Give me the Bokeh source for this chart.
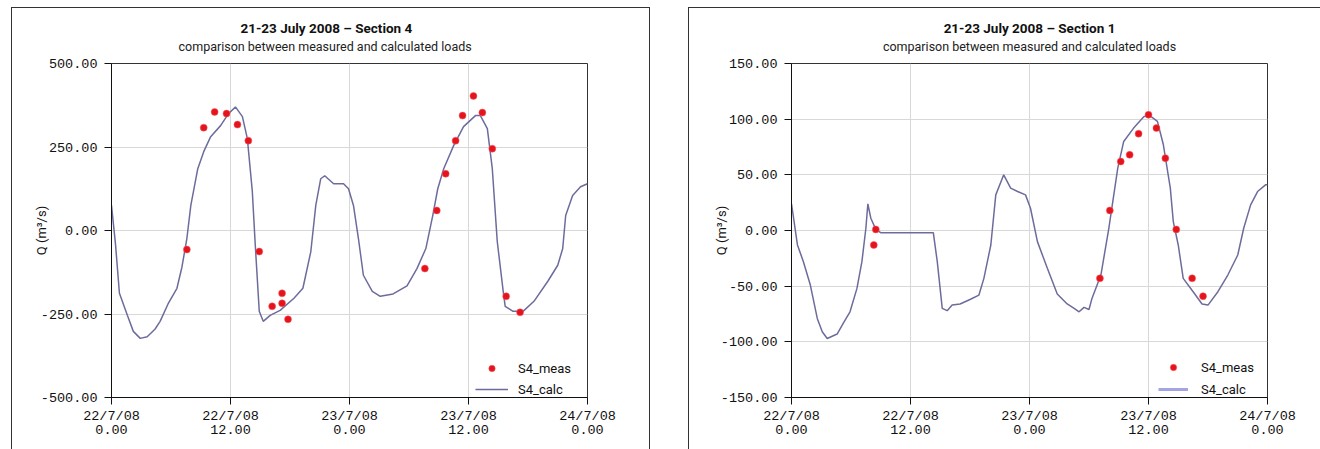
from bokeh.plotting import figure
from bokeh.layouts import row
from bokeh.models import (Title, Legend, LegendItem, FixedTicker, NumeralTickFormatter,
                          ColumnDataSource, Range1d, InlineStyleSheet)
from bokeh.embed import file_html
from bokeh.resources import INLINE

# ---------------- data ----------------
x_ticks = [0, 12, 24, 36, 48]
x_tick_labels = ["22/7/08\n0.00", "22/7/08\n12.00", "23/7/08\n0.00", "23/7/08\n12.00", "24/7/08\n0.00"]

# Section 4 (hours since 22/7/08 0.00)
s4_calc_h = [0.0, 0.4, 0.8, 1.6, 2.2, 2.9, 3.6, 4.4, 4.9, 5.7, 6.6, 7.1, 7.6, 8.0, 8.7, 9.3,
             10.0, 11.0, 11.8, 12.5, 13.2, 13.7, 14.2, 14.5, 14.9, 15.3, 16.0, 17.0, 18.4,
             19.3, 20.1, 20.6, 21.1, 21.5, 22.4, 23.4, 23.9, 24.4, 24.9, 25.4, 26.3, 27.1,
             28.4, 29.8, 30.8, 31.7, 32.4, 32.9, 33.5, 34.5, 35.5, 36.7, 37.2, 37.9, 38.4,
             38.9, 39.5, 39.7, 40.5, 41.5, 42.6, 44.0, 45.0, 45.5, 45.8, 46.5, 47.3, 48.0]
s4_calc_q = [75, -40, -188, -254, -302, -323, -318, -295, -272, -220, -173, -110, -24, 75, 185, 236,
             281, 314, 350, 370, 341, 275, 117, -45, -242, -272, -254, -239, -203,
             -173, -63, 75, 155, 164, 140, 140, 125, 75, -24, -134, -182, -197,
             -190, -166, -114, -54, 45, 125, 185, 254, 311, 344, 344, 305, 185,
             -33, -182, -227, -242, -242, -212, -152, -104, -54, 45, 105, 131, 140]
s4_meas_h = [7.6, 9.3, 10.4, 11.6, 12.7, 13.8, 14.9, 16.2, 17.2, 17.2, 17.8,
             31.6, 32.8, 33.7, 34.7, 35.4, 36.5, 37.4, 38.4, 39.8, 41.2]
s4_meas_q = [-57, 308, 355, 350, 317, 269, -63, -227, -188, -218, -266,
             -114, 60, 170, 269, 344, 403, 353, 245, -197, -245]
s4_yticks = [-500, -250, 0, 250, 500]

# Section 1
s1_calc_h = [0.0, 0.6, 1.2, 1.9, 2.6, 3.1, 3.6, 4.6, 5.3, 5.9, 6.6, 7.1, 7.5, 7.7, 8.0, 8.5,
             9.0, 14.3, 14.7, 15.2, 15.7, 16.2, 17.0, 18.0, 18.9, 19.4, 20.1, 20.6, 21.4,
             22.1, 22.8, 23.6, 24.1, 24.8, 25.8, 26.8, 27.8, 28.5, 29.0, 29.5, 30.0, 30.3,
             31.2, 32.0, 32.9, 33.5, 34.5, 35.5, 36.0, 36.9, 37.5, 38.2, 38.5, 39.0, 39.5,
             40.5, 41.4, 42.0, 43.0, 44.0, 45.0, 45.6, 46.3, 47.0, 47.8, 48.0]
s1_calc_q = [24, -13, -28, -49, -79, -91, -97, -93, -82, -73, -52, -28, 2, 24, 11, 1,
             -2, -2, -28, -70, -72, -67, -66, -62, -58, -43, -13, 32, 50,
             38, 35, 32, 20, -10, -34, -57, -66, -70, -73, -69, -71, -61,
             -40, 2, 56, 80, 92, 102, 104, 98, 77, 38, 8, -13, -43,
             -55, -66, -67, -55, -40, -22, 2, 23, 35, 41, 41]
s1_meas_h = [8.3, 8.5, 31.1, 32.1, 33.2, 34.1, 35.0, 36.0, 36.8, 37.7, 38.8, 40.4, 41.5]
s1_meas_q = [-13, 1, -43, 18, 62, 68, 87, 104, 92, 65, 1, -43, -59]
s1_yticks = [-150, -100, -50, 0, 50, 100, 150]

legend_labels = ["S4_meas", "S4_calc"]
subtitle = "comparison between measured and calculated loads"

TXT = "Roboto"
TICKF = "Liberation Mono"
NAN = float("nan")


def make_panel(title, calc_h, calc_q, meas_h, meas_q, yticks, min_left, min_right,
               min_top, min_bottom, box_css, title_align, title_off, sub_off,
               leg_loc, leg_pad, leg_glyph_w, leg_standoff, leg_spacing, label_standoff,
               thick_legend_line):
    sheet = InlineStyleSheet(css=":host { position: relative; } :host::after { content: ''; "
                             "position: absolute; pointer-events: none; " + box_css + " }")
    p = figure(width=660, height=449, output_backend="svg", toolbar_location=None,
               x_range=Range1d(x_ticks[0], x_ticks[-1]),
               y_range=Range1d(yticks[0], yticks[-1]),
               min_border_left=min_left, min_border_right=min_right,
               min_border_top=min_top, min_border_bottom=min_bottom,
               stylesheets=[sheet])
    p.background_fill_color = "white"
    p.border_fill_color = "white"
    p.outline_line_color = "#333333"
    p.outline_line_width = 1

    sub = Title(text=subtitle, align=title_align, offset=sub_off,
                text_font=TXT, text_font_size="12.5px", text_font_style="normal",
                text_color="#222222", standoff=20)
    main = Title(text=title, align=title_align, offset=title_off, text_font=TXT,
                 text_font_size="13.5px", text_font_style="bold", text_color="#111111",
                 standoff=-18)
    p.add_layout(sub, "above")
    p.add_layout(main, "above")

    # axes
    p.xaxis.ticker = FixedTicker(ticks=x_ticks)
    p.xaxis.major_label_overrides = {t: l for t, l in zip(x_ticks, x_tick_labels)}
    p.yaxis.ticker = FixedTicker(ticks=yticks)
    p.yaxis.formatter = NumeralTickFormatter(format="0.00")
    for ax in (p.xaxis, p.yaxis):
        ax.axis_line_color = "#111111"
        ax.major_tick_line_color = "#111111"
        ax.minor_tick_line_color = None
        ax.major_tick_in = 0
        ax.major_tick_out = 7
        ax.major_label_text_font = TICKF
        ax.major_label_text_font_size = "13.5px"
        ax.major_label_text_color = "#111111"
    p.xaxis.major_label_text_line_height = 0.95
    p.xaxis.major_label_standoff = 4
    p.yaxis.major_label_standoff = 7
    p.yaxis.axis_label = "Q (m³/s)"
    p.yaxis.axis_label_text_font = TXT
    p.yaxis.axis_label_text_font_size = "13px"
    p.yaxis.axis_label_text_font_style = "normal"
    p.yaxis.axis_label_text_color = "#111111"
    p.yaxis.axis_label_standoff = label_standoff

    p.xgrid.grid_line_color = "#d8d8d8"
    p.ygrid.grid_line_color = "#d8d8d8"

    calc_src = ColumnDataSource(dict(h=calc_h, q=calc_q))
    meas_src = ColumnDataSource(dict(h=meas_h, q=meas_q))
    r_calc = p.line("h", "q", source=calc_src, line_color="#6c6c9c", line_width=1.5)
    r_meas = p.scatter("h", "q", source=meas_src, size=7, fill_color="#e4141e",
                       line_color="#ff5a5a", line_width=0.5)
    legend_line = r_calc
    if thick_legend_line:
        legend_line = p.line(x=[NAN], y=[NAN], line_color="#a4a4e4", line_width=3)

    legend = Legend(items=[LegendItem(label=legend_labels[0], renderers=[r_meas]),
                           LegendItem(label=legend_labels[1], renderers=[legend_line])],
                    location=leg_loc, padding=leg_pad, margin=0, spacing=leg_spacing,
                    glyph_width=leg_glyph_w, glyph_height=16, label_height=16,
                    label_standoff=leg_standoff, label_text_font=TXT,
                    label_text_font_size="13px", label_text_color="#111111",
                    border_line_color=None, background_fill_color="white",
                    background_fill_alpha=1)
    p.add_layout(legend)
    return p


p1 = make_panel("21-23 July 2008 \u2013 Section 4", s4_calc_h, s4_calc_q, s4_meas_h, s4_meas_q,
                s4_yticks, 111, 73, 63, 50,
                "left: 11px; top: 7px; width: 639px; height: 460px; border: 1.5px solid #333;",
                "left", 129, 67, (364, 0), 5, 33, 10, 5, -11, False)
p2 = make_panel("21-23 July 2008 \u2013 Section 1", s1_calc_h, s1_calc_q, s1_meas_h, s1_meas_q,
                s1_yticks, 131, 53, 62, 52,
                "left: 28px; top: 7px; width: 700px; height: 460px; border: 1.5px solid #333;",
                "center", 0, 0, (367, 0), 0, 30, 13, 6, -11, True)

layout = row(p1, p2)
open("out.html", "w").write(file_html(layout, INLINE))
